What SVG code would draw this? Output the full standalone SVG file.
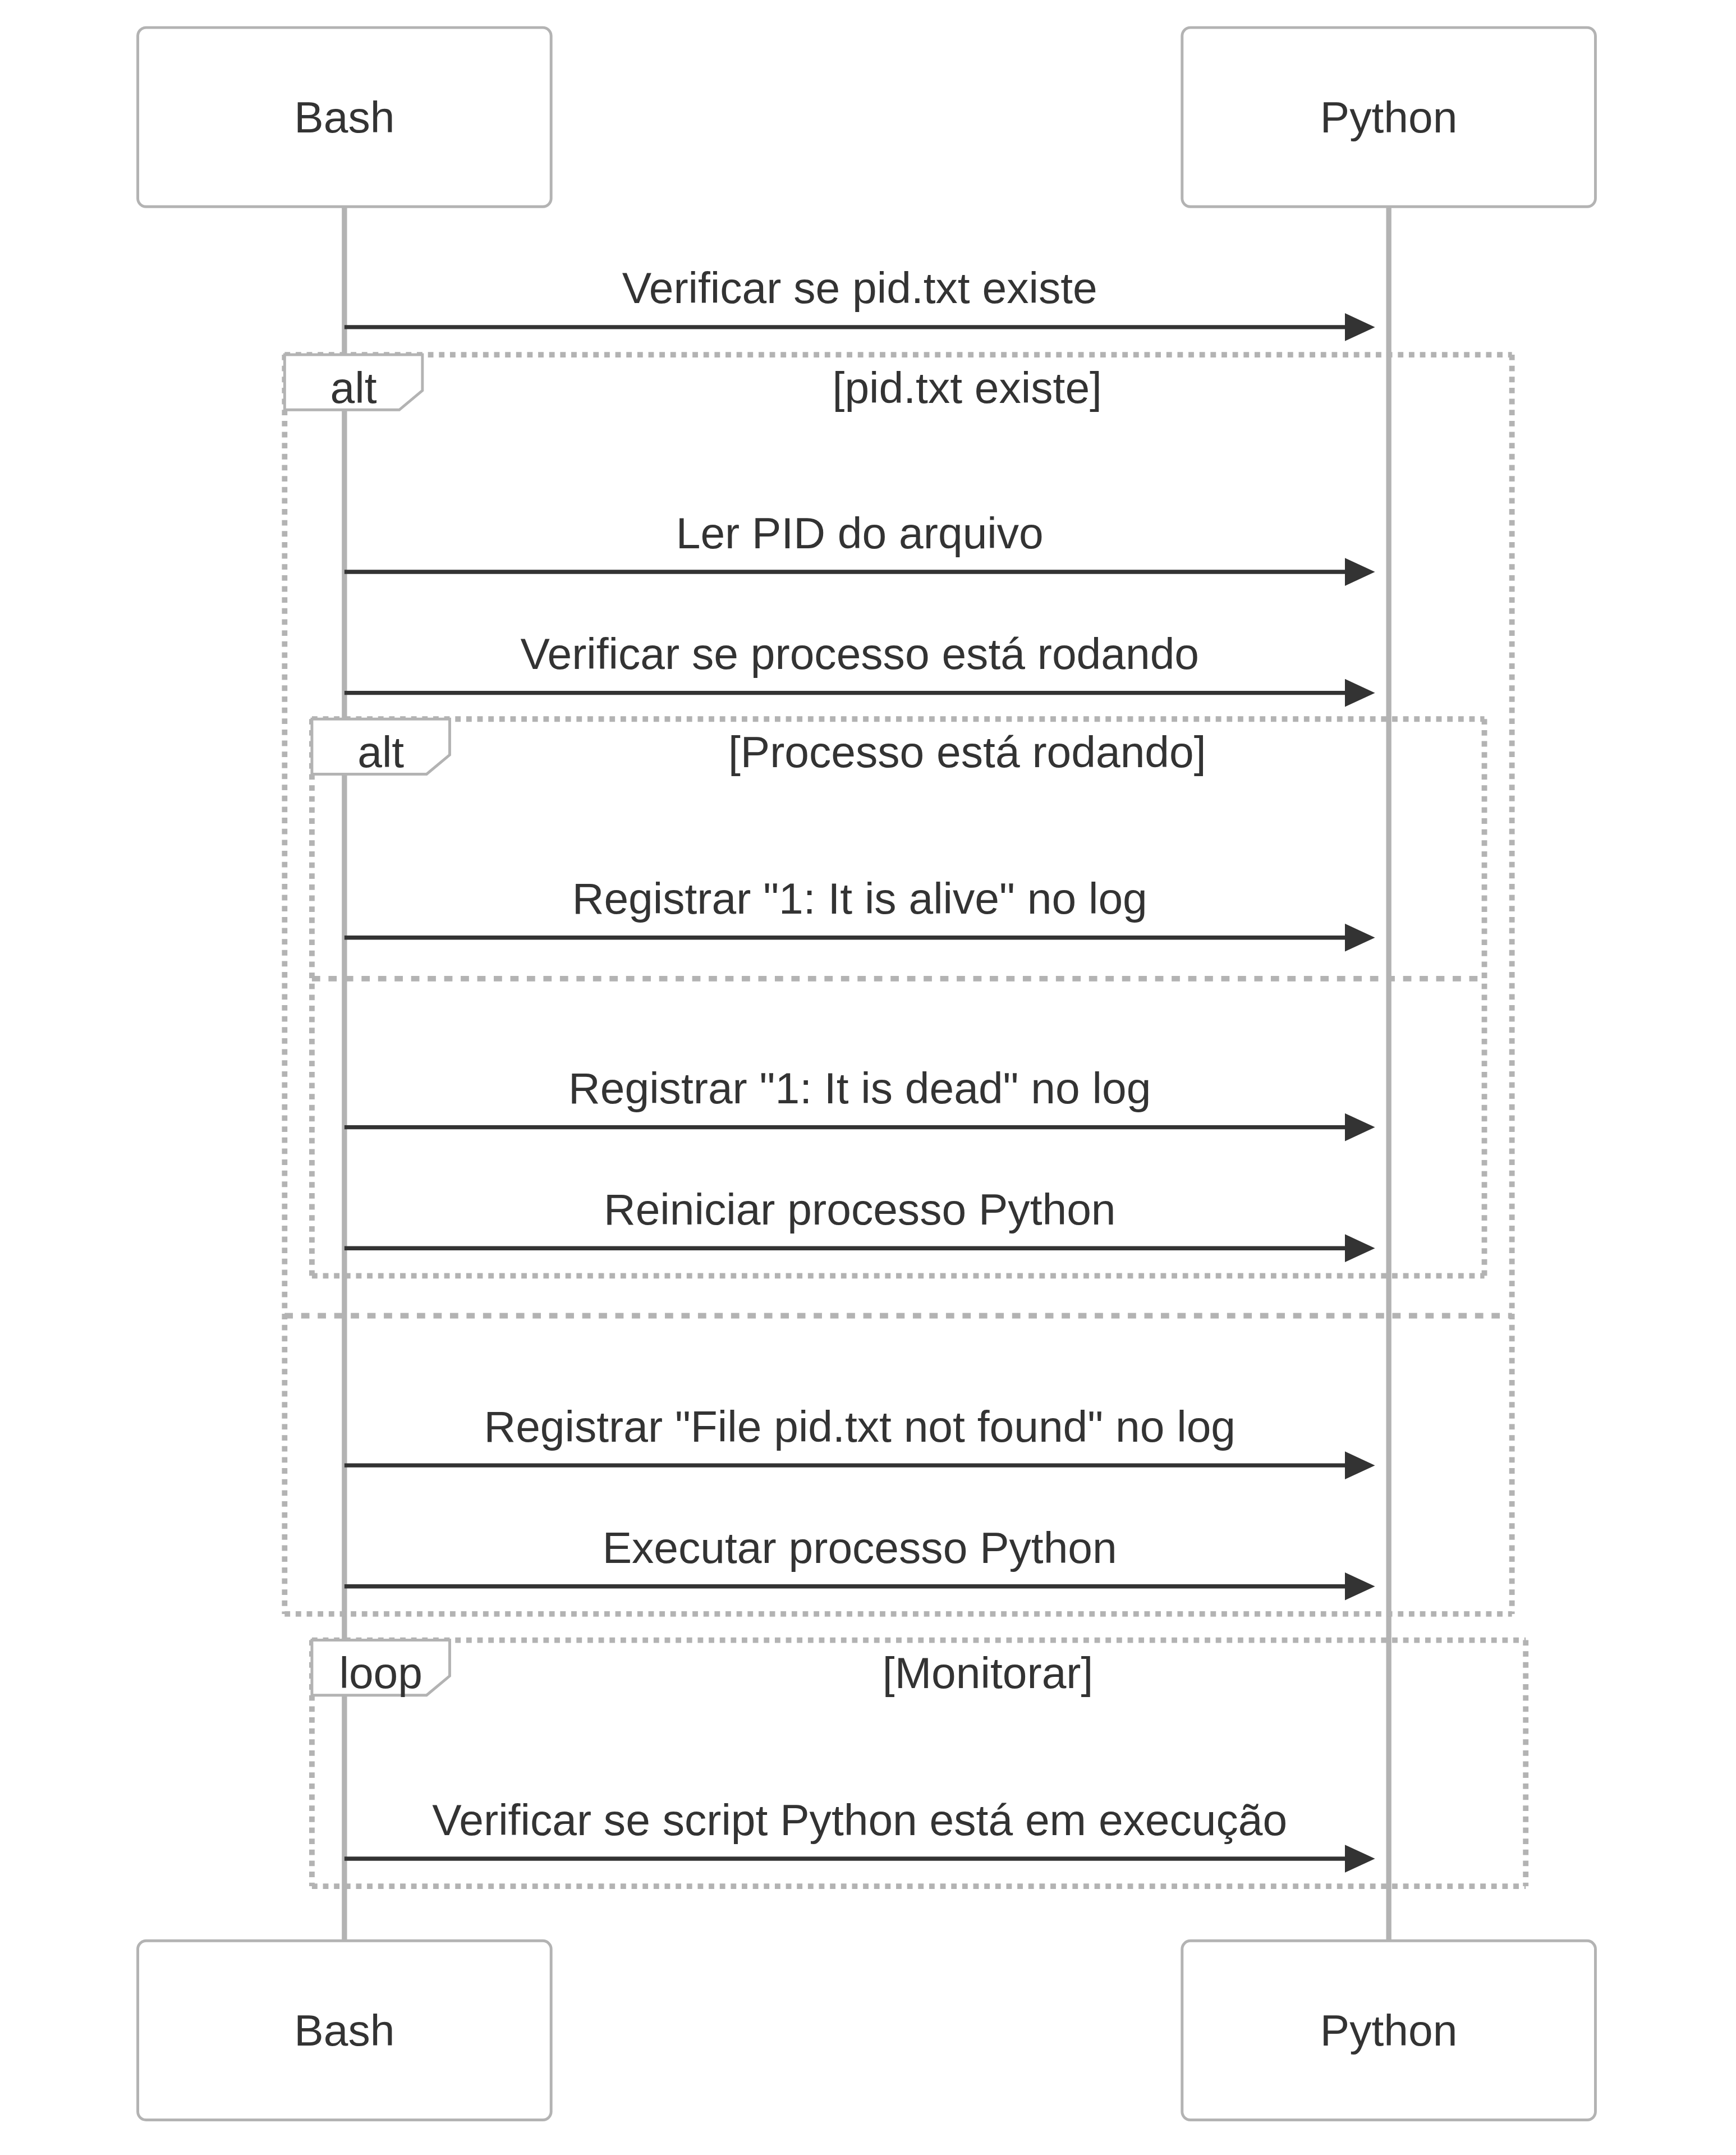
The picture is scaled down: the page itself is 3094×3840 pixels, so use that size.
<svg xmlns="http://www.w3.org/2000/svg" width="3094" height="3840" viewBox="0 0 3094 3840">
<style>
.actor{fill:#ffffff;stroke:#b3b3b3;stroke-width:1}
.actor-text{font-family:"Liberation Sans",Arial,Helvetica,sans-serif;font-size:16px;fill:#333333;text-anchor:middle}
.lifeline{stroke:#b3b3b3;stroke-width:1.9;fill:none}
.msg{stroke:#333333;stroke-width:1.5;fill:none}
.msg-text{font-family:"Liberation Sans",Arial,Helvetica,sans-serif;font-size:16px;fill:#333333;text-anchor:middle}
.frame{stroke:#b3b3b3;stroke-width:2;stroke-dasharray:2 2;fill:none}
.else{stroke:#b3b3b3;stroke-width:2;stroke-dasharray:3 3;fill:none}
.label-box{fill:#ffffff;stroke:#b3b3b3;stroke-width:1}
.label-text{font-family:"Liberation Sans",Arial,Helvetica,sans-serif;font-size:16px;fill:#333333;text-anchor:middle}
</style>
<defs>
<marker id="arrow" viewBox="0 0 11 10.2" refX="6" refY="5.1" markerWidth="11" markerHeight="10.2" markerUnits="userSpaceOnUse" orient="auto">
<path d="M0,0 L11,5.1 L0,10.2 z" fill="#333333"/>
</marker>
</defs>
<rect x="0" y="0" width="3094" height="3840" fill="#ffffff"/>
<g transform="scale(4.911)">
<g id="lifelines">
<line class="lifeline" x1="125" y1="75" x2="125" y2="704.2"/>
<line class="lifeline" x1="504" y1="75" x2="504" y2="704.2"/>
</g>
<g id="frame-alt-outer">
<line class="frame" x1="103.3" y1="128.7" x2="548.7" y2="128.7"/>
<line class="frame" x1="548.7" y1="128.7" x2="548.7" y2="585.6"/>
<line class="frame" x1="103.3" y1="585.6" x2="548.7" y2="585.6"/>
<line class="frame" x1="103.3" y1="128.7" x2="103.3" y2="585.6"/>
<line class="else" x1="103.3" y1="477.4" x2="548.7" y2="477.4"/>
<polygon class="label-box" points="103.3,128.7 153.3,128.7 153.3,141.7 144.9,148.7 103.3,148.7"/>
<text class="label-text" x="128.3" y="146.2">alt</text>
<text class="label-text" x="351" y="146.2">[pid.txt existe]</text>
</g>
<g id="frame-alt-inner">
<line class="frame" x1="113.2" y1="260.9" x2="538.7" y2="260.9"/>
<line class="frame" x1="538.7" y1="260.9" x2="538.7" y2="462.9"/>
<line class="frame" x1="113.2" y1="462.9" x2="538.7" y2="462.9"/>
<line class="frame" x1="113.2" y1="260.9" x2="113.2" y2="462.9"/>
<line class="else" x1="113.2" y1="355.1" x2="538.7" y2="355.1"/>
<polygon class="label-box" points="113.2,260.9 163.2,260.9 163.2,273.9 154.8,280.9 113.2,280.9"/>
<text class="label-text" x="138.2" y="278.4">alt</text>
<text class="label-text" x="351" y="278.4">[Processo está rodando]</text>
</g>
<g id="frame-loop">
<line class="frame" x1="113.2" y1="595.1" x2="553.7" y2="595.1"/>
<line class="frame" x1="553.7" y1="595.1" x2="553.7" y2="684.4"/>
<line class="frame" x1="113.2" y1="684.4" x2="553.7" y2="684.4"/>
<line class="frame" x1="113.2" y1="595.1" x2="113.2" y2="684.4"/>
<polygon class="label-box" points="113.2,595.1 163.2,595.1 163.2,608.1 154.8,615.1 113.2,615.1"/>
<text class="label-text" x="138.2" y="612.6">loop</text>
<text class="label-text" x="358.5" y="612.6">[Monitorar]</text>
</g>
<g id="actor-bash-top">
<rect class="actor" x="50" y="10" width="150" height="65" rx="3" ry="3"/>
<text class="actor-text" x="125" y="48.1">Bash</text>
</g>
<g id="actor-python-top">
<rect class="actor" x="429" y="10" width="150" height="65" rx="3" ry="3"/>
<text class="actor-text" x="504" y="48.1">Python</text>
</g>
<g id="actor-bash-bottom">
<rect class="actor" x="50" y="704.2" width="150" height="65" rx="3" ry="3"/>
<text class="actor-text" x="125" y="742.2">Bash</text>
</g>
<g id="actor-python-bottom">
<rect class="actor" x="429" y="704.2" width="150" height="65" rx="3" ry="3"/>
<text class="actor-text" x="504" y="742.2">Python</text>
</g>
<g id="connectors">
<line class="msg" x1="125" y1="118.7" x2="494" y2="118.7" marker-end="url(#arrow)"/>
<text class="msg-text" x="312" y="110.0">Verificar se pid.txt existe</text>
<line class="msg" x1="125" y1="207.5" x2="494" y2="207.5" marker-end="url(#arrow)"/>
<text class="msg-text" x="312" y="198.9">Ler PID do arquivo</text>
<line class="msg" x1="125" y1="251.4" x2="494" y2="251.4" marker-end="url(#arrow)"/>
<text class="msg-text" x="312" y="242.8">Verificar se processo está rodando</text>
<line class="msg" x1="125" y1="340.2" x2="494" y2="340.2" marker-end="url(#arrow)"/>
<text class="msg-text" x="312" y="331.6">Registrar "1: It is alive" no log</text>
<line class="msg" x1="125" y1="409.0" x2="494" y2="409.0" marker-end="url(#arrow)"/>
<text class="msg-text" x="312" y="400.4">Registrar "1: It is dead" no log</text>
<line class="msg" x1="125" y1="452.9" x2="494" y2="452.9" marker-end="url(#arrow)"/>
<text class="msg-text" x="312" y="444.3">Reiniciar processo Python</text>
<line class="msg" x1="125" y1="531.7" x2="494" y2="531.7" marker-end="url(#arrow)"/>
<text class="msg-text" x="312" y="523.1">Registrar "File pid.txt not found" no log</text>
<line class="msg" x1="125" y1="575.6" x2="494" y2="575.6" marker-end="url(#arrow)"/>
<text class="msg-text" x="312" y="567.0">Executar processo Python</text>
<line class="msg" x1="125" y1="674.4" x2="494" y2="674.4" marker-end="url(#arrow)"/>
<text class="msg-text" x="312" y="665.8">Verificar se script Python está em execução</text>
</g>
</g>
</svg>
